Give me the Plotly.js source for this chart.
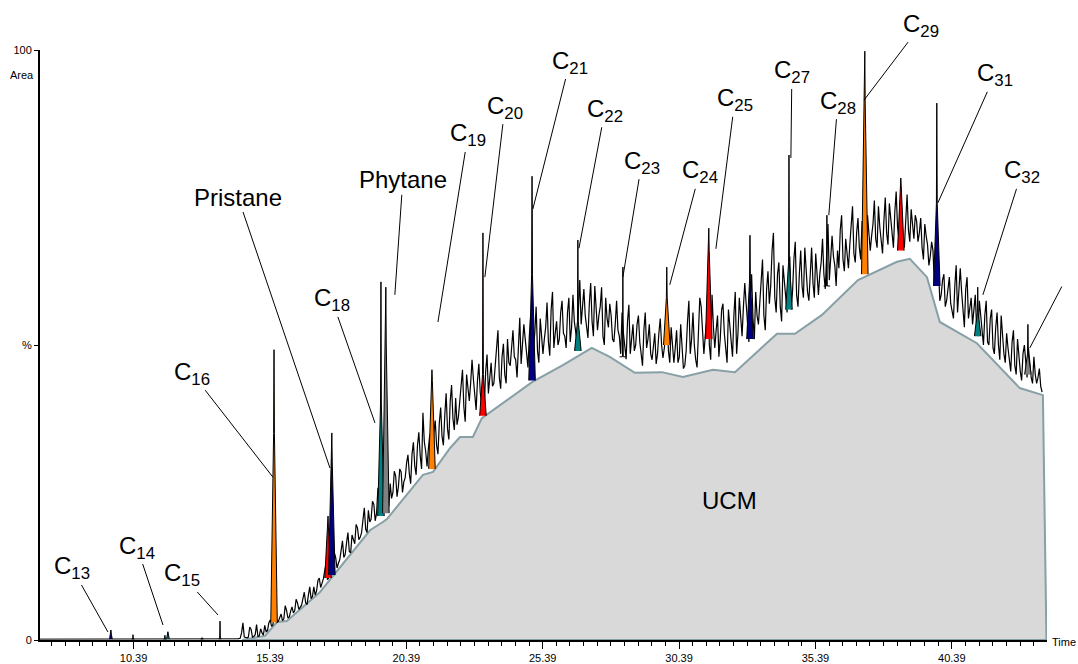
<!DOCTYPE html>
<html><head><meta charset="utf-8">
<script src="https://cdn.plot.ly/plotly-3.0.1.min.js"></script>
<style>html,body{margin:0;padding:0;background:#fff;}#chart{width:1078px;height:664px;}</style>
</head><body><div id="chart"></div>
<script>
// ---- data ----
const sampleStart = 14.2;   // min, first sample of the rising signal
const sampleStep = 0.05;    // min between samples
const signal = [
  0.2, 0.25, 0.3, 1.2, 2.9, 0.5, 0.4, 0.35, 0.5, 2.2, 1.8, 0.5, 0.6, 0.9, 2.6, 0.6, 0.7, 1.9, 1.2, 0.8,
  2.5, 1.4, 1.6, 2.9, 3.4, 2.3, 2.6, 4.6, 4.0, 3.0, 3.2, 3.9, 4.4, 3.3, 3.6, 5.8, 5.0, 3.7, 3.9, 4.9,
  5.6, 4.6, 5.0, 6.9, 6.3, 5.2, 5.6, 5.9, 7.0, 8.1, 6.3, 6.0, 7.6, 9.0, 7.0, 7.4, 9.0, 7.6, 8.3, 10.1,
  10.5, 8.9, 9.6, 10.4, 11.8, 13.0, 10.2, 10.6, 12.6, 11.0, 11.8, 14.8, 14.0, 12.2, 13.0, 13.6, 15.2, 16.8, 14.0, 14.5,
  16.5, 18.2, 15.0, 14.8, 17.8, 16.9, 16.3, 19.6, 19.0, 17.0, 17.4, 18.2, 20.5, 22.4, 18.8, 18.2, 22.0, 20.0, 20.5, 23.5,
  23.0, 20.2, 21.5, 25.8, 24.2, 22.0, 22.6, 23.4, 25.5, 27.4, 23.8, 22.6, 26.5, 24.0, 25.0, 28.6, 27.8, 24.3, 26.0, 29.0,
  28.5, 25.0, 26.8, 27.5, 30.0, 31.4, 28.2, 26.5, 31.5, 33.5, 29.5, 28.0, 33.0, 35.2, 31.2, 29.0, 38.5, 33.6, 32.0, 29.4,
  32.5, 34.8, 30.5, 31.0, 35.2, 37.2, 33.0, 31.5, 36.8, 39.4, 34.5, 33.0, 38.0, 41.8, 35.8, 34.0, 40.5, 43.2, 37.5, 35.6,
  41.0, 36.5, 37.8, 40.2, 43.5, 45.8, 39.5, 37.0, 45.0, 42.0, 40.5, 43.6, 47.5, 44.2, 41.0, 39.0, 44.0, 46.8, 42.0, 40.0,
  42.5, 39.8, 45.5, 48.4, 41.8, 44.0, 47.0, 43.0, 43.5, 46.5, 49.0, 52.5, 44.5, 42.6, 48.0, 50.2, 45.0, 43.5, 51.0, 47.0,
  46.5, 49.0, 52.5, 48.0, 47.5, 44.5, 50.0, 54.6, 46.8, 49.5, 53.5, 51.0, 48.5, 46.2, 51.5, 55.0, 47.0, 49.2, 52.0, 56.5,
  49.0, 47.0, 54.5, 51.5, 48.5, 51.0, 53.0, 57.2, 50.5, 48.2, 56.0, 59.0, 49.5, 52.0, 54.0, 50.0, 51.0, 55.5, 57.5, 52.0,
  51.5, 49.5, 55.5, 58.0, 50.5, 53.0, 58.5, 54.0, 52.0, 50.5, 56.0, 61.0, 53.5, 56.5, 59.5, 55.0, 52.5, 51.2, 57.0, 60.5,
  54.0, 51.5, 60.0, 56.0, 52.5, 55.0, 56.5, 59.8, 51.5, 50.0, 58.0, 54.5, 53.0, 57.0, 55.0, 51.0, 50.5, 53.5, 57.5, 52.5,
  51.5, 48.5, 55.5, 52.0, 49.5, 47.6, 54.0, 56.8, 48.5, 51.0, 53.5, 49.0, 50.0, 53.5, 55.0, 50.5, 48.0, 46.5, 52.5, 55.5,
  49.5, 51.0, 53.5, 48.5, 47.5, 50.5, 52.0, 46.8, 48.5, 52.0, 54.5, 50.0, 47.8, 49.5, 51.5, 55.5, 49.0, 47.0, 53.0, 50.0,
  47.0, 49.5, 52.5, 47.0, 48.0, 53.5, 50.5, 46.0, 46.5, 49.0, 54.0, 57.5, 48.5, 51.0, 55.5, 50.0, 47.5, 46.2, 52.0, 58.0,
  56.5, 52.0, 48.5, 51.5, 54.0, 60.5, 50.0, 47.5, 58.5, 53.0, 49.5, 52.5, 55.0, 48.0, 51.0, 56.0, 57.0, 52.0, 49.5, 47.0,
  56.0, 53.0, 50.5, 48.0, 55.0, 59.0, 48.5, 52.0, 58.0, 54.0, 51.5, 56.5, 60.5, 57.0, 53.0, 50.5, 57.5, 62.0, 54.5, 51.0,
  59.0, 55.0, 53.5, 57.5, 61.5, 64.5, 55.0, 52.5, 59.5, 62.5, 57.0, 60.0, 66.0, 69.0, 58.0, 55.5, 62.0, 64.0, 56.5, 54.0,
  63.5, 60.5, 57.5, 55.5, 61.0, 65.0, 56.0, 59.0, 64.5, 67.5, 58.5, 56.5, 62.0, 66.0, 60.0, 58.0, 66.5, 62.5, 59.0, 57.5,
  63.0, 66.5, 60.5, 58.0, 65.5, 61.5, 58.5, 62.0, 64.0, 68.0, 62.0, 59.5, 67.0, 70.5, 61.0, 64.5, 68.5, 65.0, 63.5, 60.0,
  66.0, 63.0, 69.5, 72.0, 64.5, 62.5, 68.0, 65.5, 63.0, 67.0, 70.5, 73.5, 65.5, 64.0, 69.0, 71.5, 66.5, 64.5, 71.0, 68.0,
  67.5, 65.0, 72.0, 69.0, 66.0, 68.5, 70.5, 74.5, 68.0, 66.5, 73.5, 70.0, 67.0, 65.5, 71.0, 75.0, 69.0, 67.0, 74.0, 71.5,
  68.5, 66.5, 72.5, 76.0, 70.0, 68.0, 74.5, 71.0, 68.0, 66.5, 71.5, 75.5, 69.5, 67.5, 73.0, 70.5, 68.0, 72.0, 71.0, 67.5,
  69.0, 71.5, 66.5, 64.5, 70.5, 68.5, 67.0, 63.5, 65.0, 67.5, 66.0, 60.5, 61.5, 64.5, 63.5, 57.5, 58.5, 61.0, 62.0, 56.5,
  57.5, 59.5, 61.5, 57.0, 56.0, 54.5, 60.0, 63.5, 55.5, 58.5, 63.0, 59.0, 55.0, 53.0, 59.5, 61.5, 54.5, 56.0, 58.0, 53.5,
  56.5, 58.5, 53.0, 51.5, 57.5, 55.0, 52.0, 50.0, 55.0, 57.5, 50.5, 50.0, 54.5, 56.0, 49.5, 48.5, 53.0, 55.5, 50.0, 47.5,
  55.0, 51.0, 48.5, 47.0, 52.0, 49.5, 47.5, 45.5, 50.5, 52.5, 46.5, 45.0, 51.0, 48.0, 45.5, 44.0, 48.5, 50.0, 47.0, 44.5,
  49.5, 46.5, 44.5, 43.5, 48.0, 45.0, 43.5, 44.5, 46.0, 43.0, 42.0
];
const preTimes = [6.96, 14.2];
const preValues = [0.15, 0.2];

const ucmTimes = [14.37, 15.21, 15.65, 16.01, 17.22, 17.59, 19.06, 19.53, 19.68, 21.0, 21.37, 21.99, 22.36, 22.83, 23.16,
  25.0, 26.13, 27.19, 27.85, 28.77, 29.76, 30.53, 31.63, 32.44, 33.98, 34.64, 35.63, 36.95, 38.38, 38.85, 39.48,
  39.95, 41.31, 42.88, 43.73, 43.86, 14.37];
const ucmValues = [0, 0.7, 3.05, 3.2, 8.1, 10.2, 18.6, 20.0, 20.5, 28.0, 28.5, 32.5, 34.4, 34.4, 37.6,
  43.7, 46.6, 49.5, 48.0, 45.3, 45.4, 44.6, 45.8, 45.4, 51.9, 51.9, 55.1, 61.0, 64.1, 64.6, 61.5,
  53.9, 50.3, 42.7, 41.5, 0, 0];

const peakTimes =     [9.56, 10.37, 11.54, 11.65, 12.90, 13.56, 15.54, 17.52, 17.66, 19.46, 19.64, 21.33, 23.20, 25.00, 26.68, 28.33, 29.94, 31.48, 32.99, 34.42, 35.81, 37.20, 38.52, 39.84, 41.34, 43.18];
const peakTops =      [1.7, 0.9, 0.8, 1.4, 0.4, 3.2, 49.2, 21.0, 35.1, 60.7, 59.8, 45.8, 69.0, 78.6, 67.8, 63.2, 63.2, 69.8, 68.6, 82.2, 72.0, 99.8, 78.3, 91.0, 59.8, 53.5];
const peakBases =     [0.15, 0.15, 0.15, 0.15, 0.15, 0.2, 3.0, 10.5, 11.0, 21.0, 21.5, 29.0, 38.0, 44.0, 49.0, 48.0, 50.0, 51.0, 51.0, 56.0, 60.0, 62.0, 66.0, 60.0, 51.5, 45.0];
const peakShoulders = [1.0, 0.15, 0.15, 1.0, 0.15, 0.2, 35.0, 19.0, 30.0, 40.0, 50.0, 44.0, 45.0, 62.0, 54.0, 48.0, 58.0, 66.0, 61.0, 64.0, 60.0, 91.0, 77.0, 74.0, 55.5, 48.5];
const peakColors =    ['#000080', 'none', 'none', '#008080', 'none', 'none', '#ff8000', '#ff0000', '#000080', '#008080', '#808080', '#ff8000', '#ff0000', '#000080', '#008080', 'none', '#ff8000', '#ff0000', '#000080', '#008080', 'none', '#ff8000', '#ff0000', '#000080', '#008080', '#808080'];

const labelTexts = ['C<sub>13</sub>', 'C<sub>14</sub>', 'C<sub>15</sub>', 'C<sub>16</sub>', 'Pristane', 'C<sub>18</sub>', 'Phytane', 'C<sub>19</sub>', 'C<sub>20</sub>', 'C<sub>21</sub>', 'C<sub>22</sub>', 'C<sub>23</sub>', 'C<sub>24</sub>', 'C<sub>25</sub>', 'C<sub>27</sub>', 'C<sub>28</sub>', 'C<sub>29</sub>', 'C<sub>31</sub>', 'C<sub>32</sub>', ' '];
const labelTimes =  [9.45, 11.47, 13.485, 15.50, 17.59, 19.24, 19.97, 21.55, 23.27, 25.03, 26.72, 28.33, 30.05, 31.74, 34.49, 35.88, 37.17, 39.88, 41.53, 43.25];
const labelValues = [1.36, 2.54, 4.24, 27.6, 29.15, 36.8, 58.5, 53.9, 61.5, 73.05, 66.4, 61.5, 60.2, 66.3, 81.7, 72.0, 91.5, 74.1, 58.5, 49.5];

const xTickVals = [10.39, 15.39, 20.39, 25.39, 30.39, 35.39, 40.39];
const xTickText = ['10.39', '15.39', '20.39', '25.39', '30.39', '35.39', '40.39'];
const yTickVals = [0, 50, 100];
const yTickText = ['0', '%', '100'];

// ---- layout-only values (label text offsets in px) ----
const labelDX = [-36, -26, -36, -81, -92, -43, 8, 30, 20, 37, 26, 19, 30, 19, 1, 9, 57, 57, 39, 37];
const labelDY = [-64, -78, -40, -104, -271, -123, -115, -187, -170, -147, -138, -115, -113, -149, -86, -113, -75, -128, -123, -71];

const FONT = 'Liberation Sans, Arial, sans-serif';
const halfBase = 0.12, halfTip = 0.015;

const traces = [];
traces.push({x: ucmTimes, y: ucmValues, type: 'scatter', mode: 'lines', fill: 'toself',
  fillcolor: '#d9d9d9', line: {color: '#86a0a6', width: 2}, hoverinfo: 'skip'});
traces.push({x: preTimes, y: preValues, type: 'scatter', mode: 'lines', line: {color: '#000', width: 1}});
traces.push({x: signal.map((v, i) => sampleStart + i * sampleStep), y: signal, type: 'scatter', mode: 'lines',
  line: {color: '#000', width: 1.2}});
peakTimes.forEach((t, i) => {
  const w = peakTops[i] < 5 ? 0.05 : halfBase;
  const sh = Math.max(peakShoulders[i], peakBases[i]);
  traces.push({
    x: [t - w, t - halfTip, t, t + halfTip, t + w],
    y: [peakBases[i], sh, peakTops[i], sh, peakBases[i]],
    type: 'scatter', mode: 'lines', fill: 'toself',
    fillcolor: peakColors[i] === 'none' ? 'rgba(0,0,0,0)' : peakColors[i],
    line: {color: '#000', width: 1}
  });
});

const annotations = labelTexts.map((txt, i) => ({
  x: labelTimes[i], y: labelValues[i], xref: 'x', yref: 'y',
  text: txt, showarrow: true, arrowhead: 0, arrowwidth: 1, arrowcolor: '#000',
  ax: labelDX[i], ay: labelDY[i], standoff: 0, startstandoff: 0,
  font: {family: FONT, size: 24, color: '#000'}
}));
annotations.push({x: 32.25, y: 23.7, xref: 'x', yref: 'y', text: 'UCM', showarrow: false,
  font: {family: FONT, size: 24, color: '#000'}});
annotations.push({x: 0, y: 0.9576, xref: 'paper', yref: 'paper', text: 'Area', showarrow: false,
  xanchor: 'right', yanchor: 'middle', xshift: -4, font: {family: FONT, size: 11, color: '#000'}});
annotations.push({x: 1, y: 0, xref: 'paper', yref: 'paper', text: 'Time', showarrow: false,
  xanchor: 'left', yanchor: 'middle', xshift: 3, yshift: -2, font: {family: FONT, size: 11, color: '#000'}});

const layout = {
  width: 1078, height: 664,
  margin: {l: 40, r: 31, t: 50, b: 24},
  paper_bgcolor: '#fff', plot_bgcolor: '#fff',
  showlegend: false,
  font: {family: FONT, size: 11, color: '#000'},
  xaxis: {range: [6.96, 43.88], showgrid: false, zeroline: false, showline: true, linecolor: '#000', linewidth: 2,
    ticks: 'outside', ticklen: 7, tickwidth: 1, tickcolor: '#000', tickvals: xTickVals, ticktext: xTickText,
    minor: {dtick: 0.5, tick0: 10.39, ticklen: 4, tickwidth: 1, tickcolor: '#000', ticks: 'outside', showgrid: false},
    tickfont: {family: FONT, size: 11, color: '#000'}},
  yaxis: {range: [0, 100], showgrid: false, zeroline: false, showline: true, linecolor: '#000', linewidth: 2,
    ticks: 'outside', ticklen: 4, tickwidth: 1, tickcolor: '#000', tickvals: yTickVals, ticktext: yTickText,
    tickfont: {family: FONT, size: 11, color: '#000'}},
  annotations: annotations
};

Plotly.newPlot('chart', traces, layout, {displayModeBar: false, staticPlot: true});
</script></body></html>
